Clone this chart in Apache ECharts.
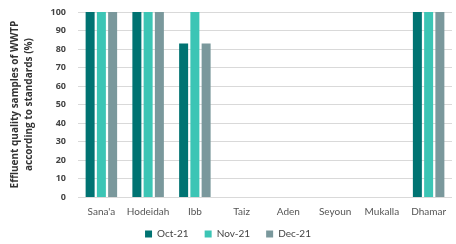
<!DOCTYPE html>
<html>
<head>
<meta charset="utf-8">
<script src="https://cdn.jsdelivr.net/npm/echarts@6/dist/echarts.min.js"></script>
<style>
  html, body { margin: 0; padding: 0; background: #fff; }
  #chart { width: 456px; height: 244px; }
</style>
</head>
<body>
<div id="chart"></div>
<script>
const cities = ["Sana'a", 'Hodeidah', 'Ibb', 'Taiz', 'Aden', 'Seyoun', 'Mukalla', 'Dhamar'];
const seriesNames = ['Oct-21', 'Nov-21', 'Dec-21'];
const oct21 = [100, 100, 83, null, null, null, null, 100];
const nov21 = [100, 100, 100, null, null, null, null, 100];
const dec21 = [100, 100, 83, null, null, null, null, 100];
const colors = ['#007372', '#3cc5b5', '#7a989c'];

const chart = echarts.init(document.getElementById('chart'));

const makeSeries = (name, data, color) => ({
    name: name,
    type: 'bar',
    data: data,
    barWidth: 9,
    barGap: '25%',
    itemStyle: { color: color }
});

chart.setOption({
    animation: false,
    color: colors,
    grid: { left: 72, right: 4, top: 12, bottom: 47 },
    legend: {
        bottom: 0,
        left: 'center',
        itemWidth: 7,
        itemHeight: 7,
        itemGap: 16,
        icon: 'rect',
        textStyle: { fontFamily: 'Lato', fontSize: 10, color: '#444' },
        data: seriesNames
    },
    xAxis: {
        type: 'category',
        data: cities,
        axisLine: { show: false },
        axisTick: { show: false },
        axisLabel: { interval: 0, fontFamily: 'Lato', fontSize: 10, color: '#555', margin: 10 }
    },
    yAxis: {
        type: 'value',
        min: 0,
        max: 100,
        interval: 10,
        name: 'Effluent quality samples of WWTP\naccording to standards (%)',
        nameLocation: 'middle',
        nameGap: 42,
        nameTextStyle: { fontFamily: 'Open Sans', fontSize: 10, fontWeight: 'bold', color: '#333', lineHeight: 14 },
        axisLabel: { fontFamily: 'Open Sans', fontSize: 9, fontWeight: 'bold', color: '#444', margin: 12 },
        splitLine: { lineStyle: { color: '#d9d9d9', width: 1 } }
    },
    series: [
        makeSeries(seriesNames[0], oct21, colors[0]),
        makeSeries(seriesNames[1], nov21, colors[1]),
        makeSeries(seriesNames[2], dec21, colors[2])
    ]
});
</script>
</body>
</html>
